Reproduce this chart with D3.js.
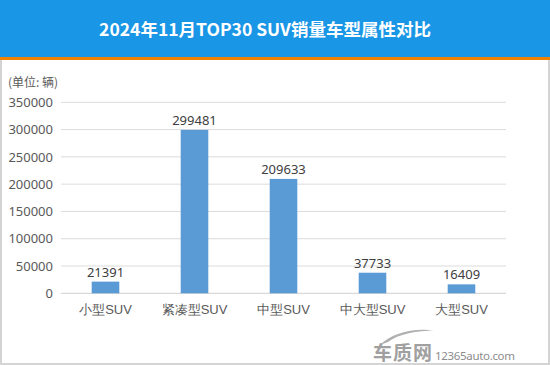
<!DOCTYPE html>
<html><head><meta charset="utf-8">
<script src="https://cdn.jsdelivr.net/npm/d3@7"></script>
<style>
html,body{margin:0;padding:0;background:#fff;}
svg{display:block;font-family:"Noto Sans CJK SC","Noto Sans",sans-serif;}
</style></head>
<body>
<svg id="c" width="550" height="365"></svg>
<script>
const categories = ["小型SUV","紧凑型SUV","中型SUV","中大型SUV","大型SUV"];
const sales = [21391, 299481, 209633, 37733, 16409];
const yTicks = [0,50000,100000,150000,200000,250000,300000,350000];
const title = "2024年11月TOP30 SUV销量车型属性对比";
const unitLabel = "(单位: 辆)";

const svg = d3.select("#c");
const W = 550, H = 365;

// frame
svg.append("rect").attr("x",1).attr("y",1).attr("width",W-2).attr("height",H-2)
  .attr("fill","#fff").attr("stroke","#d4d4d4").attr("stroke-width",2);
// header
svg.append("rect").attr("x",0).attr("y",0).attr("width",W).attr("height",57).attr("fill","#1a96e6");
svg.append("rect").attr("x",0).attr("y",57).attr("width",W).attr("height",3).attr("fill","#f08200");
svg.append("text").attr("x",265).attr("y",36).attr("text-anchor","middle")
  .attr("fill","#fff").attr("font-size",17.5).attr("font-weight","bold").text(title);

const x = d3.scaleBand().domain(categories).range([61,506]).paddingInner(0.69).paddingOuter(0.345);
const y = d3.scaleLinear().domain([0,350000]).range([293.3,102.3]);

// gridlines
svg.append("g").selectAll("line").data(yTicks).join("line")
  .attr("x1",61).attr("x2",506).attr("y1",d=>y(d)).attr("y2",d=>y(d))
  .attr("stroke",d=>d===0?"#cfcfcf":"#dcdcdc").attr("stroke-width",1);

// y axis labels
const yAxis = d3.axisLeft(y).tickValues(yTicks).tickSize(0).tickPadding(8).tickFormat(d3.format("d"));
const gy = svg.append("g").attr("transform","translate(61,0)").call(yAxis);
gy.select(".domain").remove();
gy.selectAll("text").attr("fill","#595959").attr("font-size",13).attr("font-family","'Noto Sans','Noto Sans CJK SC',sans-serif");

// x axis labels
const xAxis = d3.axisBottom(x).tickSize(0).tickPadding(11);
const gx = svg.append("g").attr("transform","translate(0,293.3)").call(xAxis);
gx.select(".domain").remove();
gx.selectAll("text").attr("fill","#595959").attr("font-size",13);

// bars
const data = categories.map((c,i)=>({c, v:sales[i]}));
svg.append("g").selectAll("rect").data(data).join("rect")
  .attr("x",d=>x(d.c)).attr("width",x.bandwidth())
  .attr("y",d=>y(d.v)).attr("height",d=>y(0)-y(d.v))
  .attr("fill","#5b9bd5");
svg.append("g").selectAll("text").data(data).join("text")
  .attr("x",d=>x(d.c)+x.bandwidth()/2).attr("y",d=>y(d.v)-5)
  .attr("text-anchor","middle").attr("fill","#404040").attr("font-size",13)
  .attr("font-family","'Noto Sans','Noto Sans CJK SC',sans-serif")
  .text(d=>d.v);

// unit label
svg.append("text").attr("x",8).attr("y",87).attr("fill","#595959").attr("font-size",12).text(unitLabel);

// watermark
const wm = svg.append("g").attr("fill","#9a9a9a");
wm.append("path").attr("d","M380,345 C392,332 418,327 434,331 C422,330 400,333 388,342 Z").attr("fill","#b0b0b0");
wm.append("text").attr("x",373).attr("y",360).attr("font-size",19).attr("font-weight","bold").attr("fill","#a0a0a0")
  .attr("textLength",59).text("车质网");
wm.append("text").attr("x",435).attr("y",360).attr("font-size",11.5).attr("fill","#8c8c8c")
  .attr("font-family","'Noto Sans',sans-serif").attr("textLength",80).text("12365auto.com");
</script>
</body></html>
